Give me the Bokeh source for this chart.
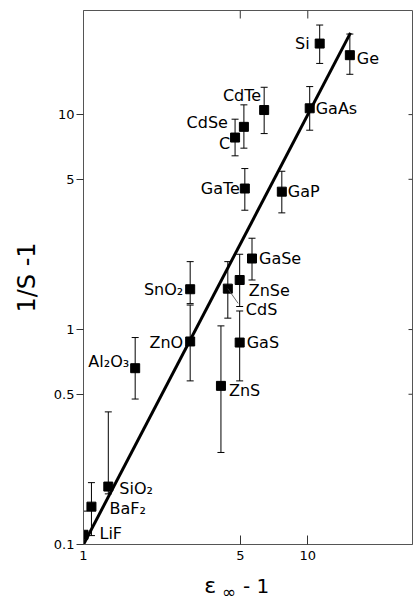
import numpy as np
from bokeh.plotting import figure
from bokeh.layouts import column
from bokeh.models import (ColumnDataSource, Whisker, TeeHead, FixedTicker,
                          Label, Range1d, Title)
from bokeh.core.properties import value
from bokeh.embed import file_html
from bokeh.resources import INLINE

# ---- data ----
materials = ["Si", "Ge", "GaAs", "CdTe", "CdSe", "C", "GaTe", "GaP", "GaSe",
             "ZnSe", "CdS", "SnO₂", "ZnO", "GaS", "Al₂O₃", "ZnS", "SiO₂",
             "BaF₂", "LiF"]
eps_minus_1 = [11.3, 15.4, 10.2, 6.39, 5.19, 4.74, 5.24, 7.66, 5.64,
               4.97, 4.40, 2.99, 2.99, 4.97, 1.70, 4.10, 1.29, 1.085, 1.0]
inv_s_minus_1 = [21.4, 18.9, 10.7, 10.5, 8.77, 7.82, 4.53, 4.38, 2.14,
                 1.70, 1.55, 1.54, 0.88, 0.87, 0.661, 0.547, 0.186, 0.150, 0.111]
err_low = [17.3, 15.4, 8.46, 8.16, 6.98, 6.43, 3.59, 3.49, 1.70,
           1.28, 1.13, 1.32, 0.577, 0.577, 0.475, 0.268, 0.172, 0.11, 0.1]
err_high = [26.1, 23.7, 13.5, 13.4, 11.1, 9.52, 5.61, 5.45, 2.66,
            2.24, 2.07, 2.07, 1.30, 1.22, 0.918, 1.04, 0.414, 0.194, 0.143]
fit_x = [1.0, 15.5]
fit_y = [0.1, 24.0]
x_ticks = [1, 5, 10]
x_ticks_top = [5, 10]
y_ticks = [0.1, 0.5, 1, 5, 10]
y_ticks_right = [0.5, 1, 5, 10]
X_START, X_END = 1.0, 29.3
Y_START, Y_END = 0.1, 30.5

# ---- label layout (screen offsets, px) ----
label_align = ["right", "left", "left", "right", "right", "right", "right", "left", "left",
               "left", "left", "right", "right", "left", "right", "left", "left",
               "left", "left"]
label_dx = [-10, 7, 6, -3, -16, -5, -5, 6, 7,
            9, 18, -7, -7, 7, -6, 8, 11, 18, 16]
label_dy = [0, 3, 0, -15, -4, 6, 0, 0, 0,
            10, 21, 0, 1, 0, -7, 5, 2, 2, -1]

FONT = "DejaVu Sans"
AXC = "#555555"
LEFT, RIGHT = 82, 1

src = ColumnDataSource(dict(x=eps_minus_1, y=inv_s_minus_1, lo=err_low, hi=err_high,
                            name=materials, align=label_align,
                            dx=label_dx, dy=label_dy))

p = figure(width=413, height=565, x_axis_type="log", y_axis_type="log",
           x_range=Range1d(X_START, X_END), y_range=Range1d(Y_START, Y_END),
           output_backend="svg", toolbar_location=None,
           min_border_left=LEFT, min_border_right=RIGHT, min_border_top=10,
           min_border_bottom=21)
p.background_fill_color = "white"
p.border_fill_color = "white"
p.outline_line_color = AXC
p.grid.visible = False

# axes
xa = p.xaxis[0]
xa.ticker = FixedTicker(ticks=x_ticks)
xa.major_tick_in = 9
xa.major_tick_out = 0
xa.minor_tick_line_color = None
xa.axis_line_color = AXC
xa.major_tick_line_color = "#333333"
xa.major_label_text_font = FONT
xa.major_label_text_font_size = "13px"
xa.major_label_text_color = "black"
xa.major_label_standoff = 6

ya = p.yaxis[0]
ya.ticker = FixedTicker(ticks=y_ticks)
ya.major_tick_in = 0
ya.major_tick_out = 7
ya.minor_tick_line_color = None
ya.axis_line_color = AXC
ya.major_tick_line_color = "#333333"
ya.major_label_text_font = FONT
ya.major_label_text_font_size = "13px"
ya.major_label_text_color = "black"
ya.major_label_standoff = 2

p.add_layout(Title(text="1/S -1", text_font=FONT, text_font_size="24px",
                   text_font_style="normal", text_color="black",
                   align="center", offset=-61, standoff=20), "left")

# inward ticks on top and right borders
p.ray(x=x_ticks_top, y=[Y_END] * len(x_ticks_top), length=8, length_units="screen",
      angle=-90, angle_units="deg", line_color="#333333", line_width=1)
p.ray(x=[X_END] * len(y_ticks_right), y=y_ticks_right, length=4, length_units="screen",
      angle=180, angle_units="deg", line_color="#333333", line_width=1)

# fit line
p.line(fit_x, fit_y, line_width=3, color="black")

# error bars
wh = Whisker(base="x", lower="lo", upper="hi", source=src, dimension="height",
             line_color="black", line_width=1,
             upper_head=TeeHead(size=7, line_color="black", line_width=1),
             lower_head=TeeHead(size=7, line_color="black", line_width=1))
p.add_layout(wh)

# markers
p.scatter("x", "y", source=src, marker="square", size=9, color="black")

# CdS leader line
i_cds = materials.index("CdS")
p.ray(x=[eps_minus_1[i_cds]], y=[inv_s_minus_1[i_cds]], length=18, length_units="screen",
      angle=-55, angle_units="deg", line_color="#444444", line_width=0.8)

# labels
p.text("x", "y", text="name", source=src, x_offset="dx", y_offset="dy",
       text_align="align", text_baseline="middle", text_font=value(FONT),
       text_font_size="16px", text_color="black")

# ---- x axis title strip: epsilon with infinity subscript ----
# frame of this strip spans the same columns as the main frame; its x range is in page px
p2 = figure(width=413, height=38, x_range=Range1d(LEFT, 413 - RIGHT), y_range=Range1d(0, 38),
            output_backend="svg", toolbar_location=None,
            min_border_left=LEFT, min_border_right=RIGHT, min_border_top=0, min_border_bottom=0,
            x_axis_location=None, y_axis_location=None)
p2.outline_line_color = None
p2.grid.visible = False
p2.background_fill_color = "white"
p2.border_fill_color = "white"
p2.add_layout(Label(x=203, y=18, text="ε", text_font=FONT, text_font_size="22px",
                    text_color="black", text_baseline="alphabetic"))
p2.add_layout(Label(x=221, y=12, text="∞", text_font=FONT, text_font_size="17px",
                    text_color="black", text_baseline="alphabetic"))
p2.add_layout(Label(x=242, y=18, text="- 1", text_font=FONT, text_font_size="20px",
                    text_color="black", text_baseline="alphabetic"))

layout = column(p, p2, spacing=0)
open("out.html", "w").write(file_html(layout, INLINE))
